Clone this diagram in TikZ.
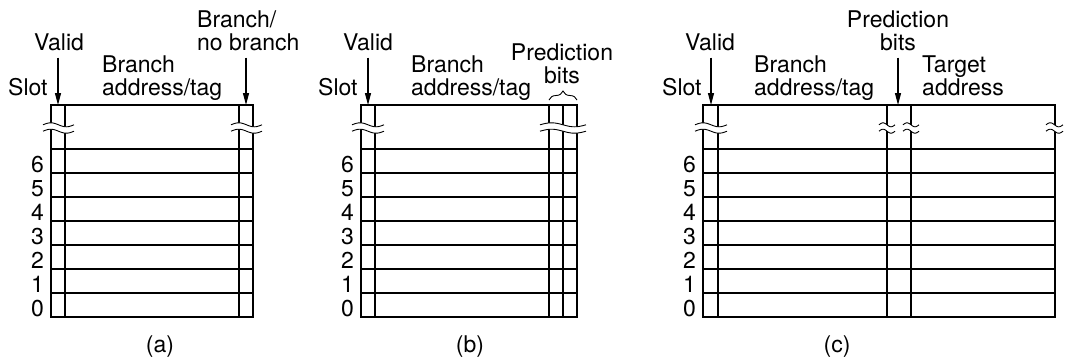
\documentclass[tikz,border=0pt]{standalone}
\usepackage{fontspec}
\setmainfont{TeX Gyre Heros}
\usetikzlibrary{arrows.meta,decorations.pathreplacing}

% break mark across vertical lines: from x, to x, centre y
\newcommand{\wbreak}[3]{%
  \fill[white] plot[domain=#1:#2,samples=25] (\x,{#3-3.2-2*sin((\x-#1)/(#2-#1)*360)})
    -- plot[domain=#2:#1,samples=25] (\x,{#3+3.2-2*sin((\x-#1)/(#2-#1)*360)}) -- cycle;
  \draw[brk] plot[domain=#1:#2,samples=25] (\x,{#3-3.2-2*sin((\x-#1)/(#2-#1)*360)});
  \draw[brk] plot[domain=#1:#2,samples=25] (\x,{#3+3.2-2*sin((\x-#1)/(#2-#1)*360)});}

\begin{document}
\begin{tikzpicture}[x=1pt,y=-1pt,
   txt/.style={inner sep=0pt,font=\fontsize{23}{23}\selectfont},
   lbl/.style={txt,align=left,anchor=base west},
   ctr/.style={txt,align=center,anchor=base},
   num/.style={txt,anchor=base east},
   grid/.style={line width=2.4pt,line cap=rect},
   brk/.style={line width=0.9pt},
   ptr/.style={-{Triangle[length=12pt,width=6pt]},line width=1.2pt,shorten <=7pt}]
  \useasboundingbox (0,0) rectangle (1065,360);

  % (a) valid + tag + branch/no branch
  \draw[grid] (51,105) rectangle (253,317);
  \foreach \cx in {65,239} \draw[grid] (\cx,105) -- (\cx,317);
  \foreach \yy [count=\i from 0] in {293,269,...,149} {
    \draw[grid] (51,\yy) -- (253,\yy);
    \node[num] (a\i) at (44,\yy+23) {\i};
  }
  \wbreak{43}{74}{128}
  \wbreak{231}{262}{128}
  \node[lbl] (aSlot) at (8,95) {Slot};
  \node[ctr] (aValid) at (59,50) {Valid};
  \node[lbl] (aTag) at (102,95) {Branch\\address/tag};
  \node[lbl] (aBr) at (197,50) {Branch/\\no branch};
  \coordinate (aV) at (58,105);
  \coordinate (aB) at (246,105);
  \draw[ptr] (aV |- aValid.south) -- (aV);
  \draw[ptr] (aB |- aBr.south) -- (aB);
  \node[ctr] (aCap) at (160,352) {(a)};

  % (b) two prediction bits
  \draw[grid] (361,105) rectangle (577,317);
  \foreach \cx in {375,549,563} \draw[grid] (\cx,105) -- (\cx,317);
  \foreach \yy [count=\i from 0] in {293,269,...,149} {
    \draw[grid] (361,\yy) -- (577,\yy);
    \node[num] (b\i) at (354,\yy+23) {\i};
  }
  \wbreak{352}{384}{128}
  \wbreak{540}{586}{128}
  \node[lbl] (bSlot) at (318,95) {Slot};
  \node[ctr] (bValid) at (368,50) {Valid};
  \node[lbl] (bTag) at (411,95) {Branch\\address/tag};
  \node[ctr] (bPred) at (562,83) {Prediction\\bits};
  \coordinate (bV) at (368,105);
  \coordinate (bP1) at (549,100);
  \coordinate (bP2) at (577,100);
  \draw[ptr] (bV |- bValid.south) -- (bV);
  \draw[line width=0.9pt,decorate,decoration={brace,amplitude=9pt}] (bP1) -- (bP2);
  \node[ctr] (bCap) at (470,352) {(b)};

  % (c) prediction bits + target address
  \draw[grid] (703,105) rectangle (1055,317);
  \foreach \cx in {718,887,911} \draw[grid] (\cx,105) -- (\cx,317);
  \foreach \yy [count=\i from 0] in {293,269,...,149} {
    \draw[grid] (703,\yy) -- (1055,\yy);
    \node[num] (c\i) at (696,\yy+23) {\i};
  }
  \wbreak{695}{727}{128}
  \wbreak{879}{895}{128}
  \wbreak{903}{919}{128}
  \wbreak{1046}{1063}{128}
  \node[lbl] (cSlot) at (662,95) {Slot};
  \node[ctr] (cValid) at (710,50) {Valid};
  \node[lbl] (cTag) at (754,95) {Branch\\address/tag};
  \node[ctr] (cPred) at (898,50) {Prediction\\bits};
  \node[lbl] (cTgt) at (922,95) {Target\\address};
  \coordinate (cV) at (711,105);
  \coordinate (cP) at (898,105);
  \draw[ptr] (cV |- cValid.south) -- (cV);
  \draw[ptr] (cP |- cPred.south) -- (cP);
  \node[ctr] (cCap) at (837,352) {(c)};
\end{tikzpicture}
\end{document}
